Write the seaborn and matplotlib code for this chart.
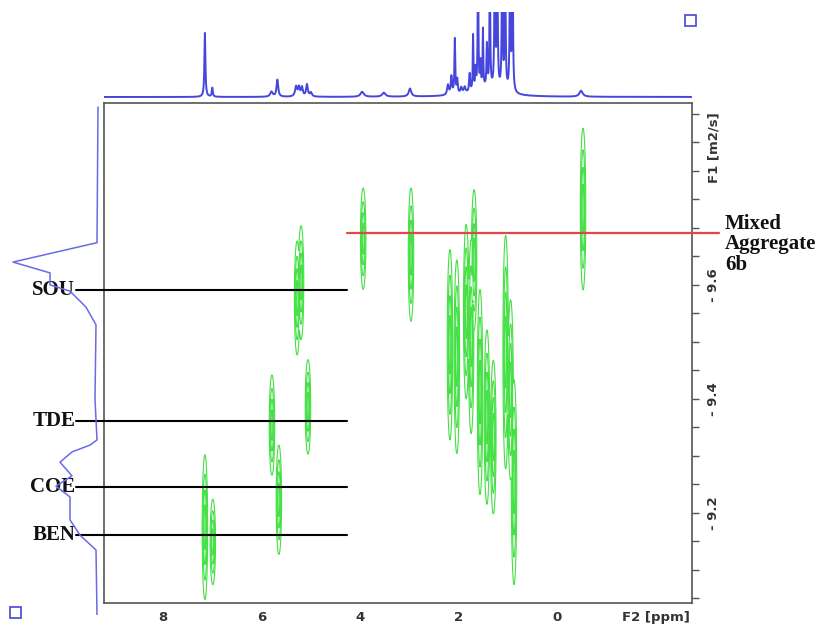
import numpy as np
import pandas as pd
import matplotlib
matplotlib.use("Agg")
import matplotlib.pyplot as plt
from matplotlib.patches import Rectangle
import seaborn as sns

# ---- 1H spectrum (top trace): peak position [ppm], height, half-width [ppm]
h1_ppm = [7.15, 7.00, 5.80, 5.68, 5.30, 5.24, 5.18, 5.08, 5.00, 3.96, 3.52, 2.99,
          2.22, 2.15, 2.08, 2.03, 1.95, 1.88, 1.78, 1.71, 1.66, 1.61, 1.56, 1.51,
          1.43, 1.37, 1.27, 1.22, 1.12, 1.06, 0.96, 0.91, 1.45, -0.48]
h1_height = [64, 9, 5, 17, 10, 9, 9, 12, 4, 5, 4, 8,
             10, 18, 55, 14, 6, 6, 18, 55, 20, 150, 25, 58,
             42, 150, 150, 150, 150, 150, 150, 150, 8, 6]
h1_width = [0.012, 0.012, 0.03, 0.02, 0.025, 0.02, 0.02, 0.02, 0.025, 0.04, 0.04, 0.03,
            0.02, 0.015, 0.01, 0.012, 0.02, 0.02, 0.012, 0.008, 0.01, 0.008, 0.01, 0.008,
            0.01, 0.008, 0.01, 0.01, 0.01, 0.01, 0.01, 0.01, 0.35, 0.04]

# ---- DOSY cross peaks: F2 [ppm], centre log D, half extent in log D
dosy_ppm = [7.15, 6.99, 5.79, 5.65, 5.28, 5.20, 5.06, 3.94, 2.97,
            2.18, 2.04, 1.85, 1.75, 1.69, 1.57, 1.43, 1.30, 1.05, 0.95, 0.88, -0.52]
dosy_logd = [-9.175, -9.149, -9.354, -9.223, -9.577, -9.604, -9.386, -9.681, -9.653,
             -9.495, -9.474, -9.553, -9.509, -9.644, -9.412, -9.368, -9.333, -9.482,
             -9.416, -9.254, -9.733]
dosy_span = [0.127, 0.075, 0.088, 0.096, 0.10, 0.10, 0.083, 0.089, 0.117,
             0.167, 0.17, 0.153, 0.17, 0.123, 0.18, 0.153, 0.135, 0.205,
             0.158, 0.18, 0.142]

# ---- diffusion projection (left trace): log D and intensity
proj_logd = [-9.912, -9.674, -9.640, -9.621, -9.600, -9.589, -9.561, -9.530, -9.400,
             -9.328, -9.319, -9.307, -9.289, -9.265, -9.247, -9.228, -9.188, -9.161,
             -9.135, -9.021]
proj_int = [0, 1, 85, 48, 48, 28, 12, 2, 3,
            1, 8, 26, 38, 26, 42, 28, 28, 18,
            2, 1]

# ---- species levels
species = ["SOU", "TDE", "COE", "BEN"]
species_logd = [-9.591, -9.361, -9.246, -9.161]
aggregate_label = "Mixed\nAggregate\n6b"
aggregate_logd = -9.691

x_ticks_major = [8, 6, 4, 2, 0, -2]
x_tick_labels = ["8", "6", "4", "2", "0", "F2 [ppm]"]
y_ticks_major = [-9.6, -9.4, -9.2]
y_tick_labels = ["- 9.6", "- 9.4", "- 9.2"]

XLIM = (9.197, -2.730)
YLIM = (-9.042, -9.919)

W, H = 819, 643
sns.set_style("white")
fig = plt.figure(figsize=(W / 100, H / 100), dpi=100)


def box(x0, y0, x1, y1):
    return [x0 / W, 1 - y1 / H, (x1 - x0) / W, (y1 - y0) / H]


ax = fig.add_axes(box(104, 103, 692, 603))
ax_top = fig.add_axes(box(104, 12, 692, 99))
ax_left = fig.add_axes(box(5, 103, 100, 615))

# ---- 2D contour map
gx = np.linspace(XLIM[1], XLIM[0], 2400)
gy = np.linspace(-9.95, -9.0, 500)
GX, GY = np.meshgrid(gx, gy)
Z = np.zeros_like(GX)
for p, d, s in zip(dosy_ppm, dosy_logd, dosy_span):
    sy = s / 2.45
    sx = 0.055 / 2.45
    Z = np.maximum(Z, np.exp(-0.5 * (((GX - p) / sx) ** 2 + ((GY - d) / sy) ** 2)))
ax.contour(GX, GY, Z, levels=[0.05, 0.2, 0.45, 0.75], colors="#44e044",
           linewidths=0.8)

ax.set_xlim(*XLIM)
ax.set_ylim(*YLIM)

frame_col = "#555555"
for side in ["left", "right", "top", "bottom"]:
    ax.spines[side].set_color(frame_col)
    ax.spines[side].set_linewidth(1.2)
    ax.spines[side].set_visible(True)

ax.yaxis.tick_right()
xt = np.round(np.arange(-2.5, 9.01, 0.5), 2)
ax.set_xticks(xt)
ax.set_xticklabels([x_tick_labels[x_ticks_major.index(v)] if v in x_ticks_major else ""
                    for v in xt])
yt = np.round(np.arange(-9.90, -9.04, 0.05), 2)
ax.set_yticks(yt)
ax.set_yticklabels([y_tick_labels[y_ticks_major.index(v)] if v in y_ticks_major else ""
                    for v in yt], rotation=90, va="center")
ax.tick_params(axis="both", direction="out", length=5, width=1.0, color=frame_col,
               labelsize=9.5, labelcolor="#333333")
ax.tick_params(axis="x", pad=1)
ax.tick_params(axis="y", right=True, left=False, pad=6)
for lab in ax.get_xticklabels() + ax.get_yticklabels():
    lab.set_fontweight("bold")
ax.text(1.037, 0.91, "F1 [m2/s]", transform=ax.transAxes, rotation=90,
        ha="center", va="center", fontsize=9.5, fontweight="bold", color="#333333")

# ---- top 1H trace
xs = np.linspace(XLIM[1], XLIM[0], 8000)
spec = np.zeros_like(xs)
for p, h, w in zip(h1_ppm, h1_height, h1_width):
    spec += h * w ** 2 / ((xs - p) ** 2 + w ** 2)
df_top = pd.DataFrame({"ppm": xs, "intensity": spec})
sns.lineplot(data=df_top, x="ppm", y="intensity", ax=ax_top, color="#4646dc",
             linewidth=1.4, sort=False)
ax_top.set_xlim(*XLIM)
ax_top.set_ylim(-2, 85)
ax_top.axis("off")

# ---- left diffusion projection
df_left = pd.DataFrame({"logD": proj_logd, "intensity": proj_int})
sns.lineplot(data=df_left, x="intensity", y="logD", ax=ax_left, color="#6a6ae6",
             linewidth=1.1, sort=False, orient="y")
ax_left.set_ylim(-9.021, -9.919)
ax_left.set_xlim(93, -2)
ax_left.axis("off")

# ---- species markers
line_start = 9.76
line_end = 4.27
for name, d in zip(species, species_logd):
    ax.plot([line_start, line_end], [d, d], color="black", lw=1.5, clip_on=False,
            zorder=5)
    ax.text(line_start + 0.02, d, name, ha="right", va="center", fontsize=15,
            fontweight="bold", family="Liberation Serif", color="#111111", zorder=6)
ax.plot([line_end, -3.27], [aggregate_logd, aggregate_logd], color="#e04848", lw=1.6,
        clip_on=False, zorder=5)
ax.text(-3.40, aggregate_logd + 0.02, aggregate_label, ha="left", va="center",
        fontsize=15, fontweight="bold", family="Liberation Serif", color="#111111",
        linespacing=1.05)

# ---- small window icons
fig.add_artist(Rectangle((685 / W, 1 - 26 / H), 11 / W, 11 / H, fill=False,
                         edgecolor="#4646dc", lw=1.2, transform=fig.transFigure))
fig.add_artist(Rectangle((10 / W, 1 - 618 / H), 11 / W, 11 / H, fill=False,
                         edgecolor="#4646dc", lw=1.2, transform=fig.transFigure))

fig.savefig("out.png", dpi=100)
